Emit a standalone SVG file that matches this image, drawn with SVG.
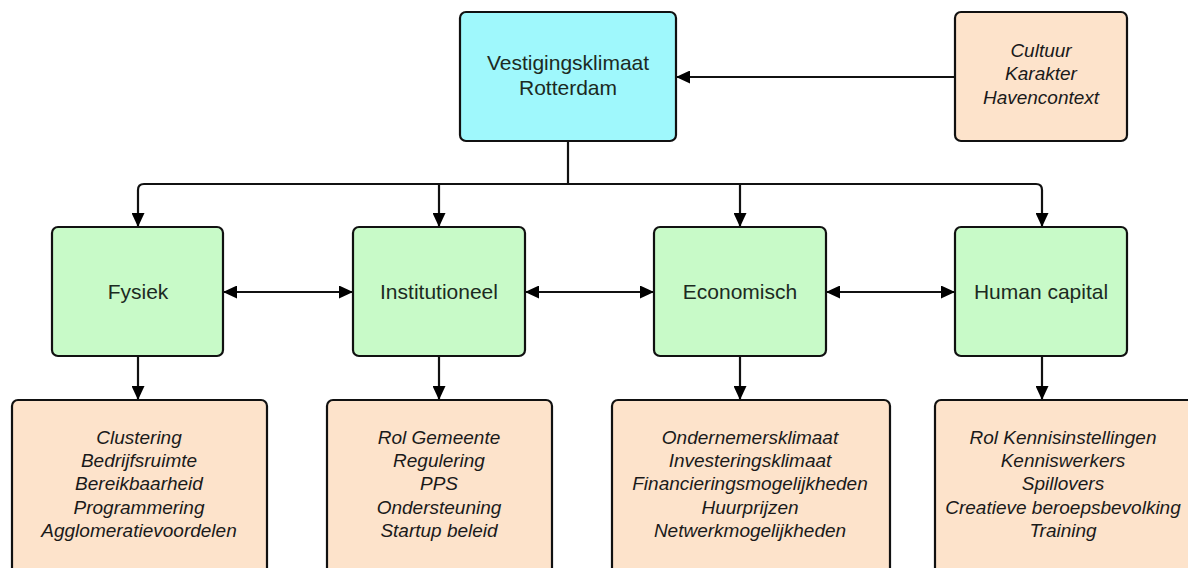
<svg xmlns="http://www.w3.org/2000/svg" width="1188" height="568" viewBox="0 0 1188 568">
  <style>
    .box { stroke: #111; stroke-width: 2.2; }
    .main { fill: #9ff8fc; }
    .cat { fill: #c8fac8; }
    .info { fill: #fde3cb; }
    .lbl { font-family: "Liberation Sans", Arial, sans-serif; font-size: 21px; fill: #1c2a22; text-anchor: middle; }
    .it { font-family: "Liberation Sans", Arial, sans-serif; font-size: 19px; font-style: italic; fill: #1a1a1a; text-anchor: middle; }
    .wire { fill: none; stroke: #111; stroke-width: 2.2; }
  </style>
  <defs>
    <marker id="head" viewBox="0 0 14 13" refX="14" refY="6.5" markerWidth="14" markerHeight="13" markerUnits="userSpaceOnUse" orient="auto-start-reverse">
      <path d="M0,0 L14,6.5 L0,13 Z" fill="#000"/>
    </marker>
  </defs>
  <rect width="1188" height="568" fill="#fff"/>

  <!-- connectors -->
  <g id="connectors">
    <path class="wire" d="M955,77 H676" marker-end="url(#head)"/>
    <path class="wire" d="M568,141 V184"/>
    <path class="wire" d="M138,227 V190 Q138,184 144,184 H1036 Q1042,184 1042,190 V227" marker-start="url(#head)" marker-end="url(#head)"/>
    <path class="wire" d="M439,184 V227" marker-end="url(#head)"/>
    <path class="wire" d="M740,184 V227" marker-end="url(#head)"/>
    <path class="wire" d="M223,292 H353" marker-start="url(#head)" marker-end="url(#head)"/>
    <path class="wire" d="M525,292 H654" marker-start="url(#head)" marker-end="url(#head)"/>
    <path class="wire" d="M826,292 H955" marker-start="url(#head)" marker-end="url(#head)"/>
    <path class="wire" d="M138,356 V400" marker-end="url(#head)"/>
    <path class="wire" d="M439,356 V400" marker-end="url(#head)"/>
    <path class="wire" d="M740,356 V400" marker-end="url(#head)"/>
    <path class="wire" d="M1042,356 V400" marker-end="url(#head)"/>
  </g>

  <g id="vestigingsklimaat">
    <rect class="box main" x="460" y="12" width="216" height="129" rx="6"/>
    <text class="lbl" x="568" y="70">Vestigingsklimaat</text>
    <text class="lbl" x="568" y="95">Rotterdam</text>
  </g>

  <g id="context">
    <rect class="box info" x="955" y="12" width="172" height="129" rx="6"/>
    <text class="it" x="1041" y="57">Cultuur</text>
    <text class="it" x="1041" y="80">Karakter</text>
    <text class="it" x="1041" y="104">Havencontext</text>
  </g>

  <g id="fysiek">
    <rect class="box cat" x="52" y="227" width="171" height="129" rx="6"/>
    <text class="lbl" x="138" y="299">Fysiek</text>
  </g>
  <g id="institutioneel">
    <rect class="box cat" x="353" y="227" width="172" height="129" rx="6"/>
    <text class="lbl" x="439" y="299">Institutioneel</text>
  </g>
  <g id="economisch">
    <rect class="box cat" x="654" y="227" width="172" height="129" rx="6"/>
    <text class="lbl" x="740" y="299">Economisch</text>
  </g>
  <g id="human-capital">
    <rect class="box cat" x="955" y="227" width="172" height="129" rx="6"/>
    <text class="lbl" x="1041" y="299">Human capital</text>
  </g>

  <g id="fysiek-factoren">
    <rect class="box info" x="12" y="400" width="255" height="190" rx="6"/>
    <text class="it" x="139" y="444">Clustering</text>
    <text class="it" x="139" y="467">Bedrijfsruimte</text>
    <text class="it" x="139" y="490">Bereikbaarheid</text>
    <text class="it" x="139" y="514">Programmering</text>
    <text class="it" x="139" y="537">Agglomeratievoordelen</text>
  </g>
  <g id="institutioneel-factoren">
    <rect class="box info" x="327" y="400" width="225" height="190" rx="6"/>
    <text class="it" x="439" y="444">Rol Gemeente</text>
    <text class="it" x="439" y="467">Regulering</text>
    <text class="it" x="439" y="490">PPS</text>
    <text class="it" x="439" y="514">Ondersteuning</text>
    <text class="it" x="439" y="537">Startup beleid</text>
  </g>
  <g id="economisch-factoren">
    <rect class="box info" x="612" y="400" width="278" height="190" rx="6"/>
    <text class="it" x="750" y="444">Ondernemersklimaat</text>
    <text class="it" x="750" y="467">Investeringsklimaat</text>
    <text class="it" x="750" y="490">Financieringsmogelijkheden</text>
    <text class="it" x="750" y="514">Huurprijzen</text>
    <text class="it" x="750" y="537">Netwerkmogelijkheden</text>
  </g>
  <g id="human-capital-factoren">
    <rect class="box info" x="935" y="400" width="260" height="190" rx="6"/>
    <text class="it" x="1063" y="444">Rol Kennisinstellingen</text>
    <text class="it" x="1063" y="467">Kenniswerkers</text>
    <text class="it" x="1063" y="490">Spillovers</text>
    <text class="it" x="1063" y="514">Creatieve beroepsbevolking</text>
    <text class="it" x="1063" y="537">Training</text>
  </g>
</svg>
